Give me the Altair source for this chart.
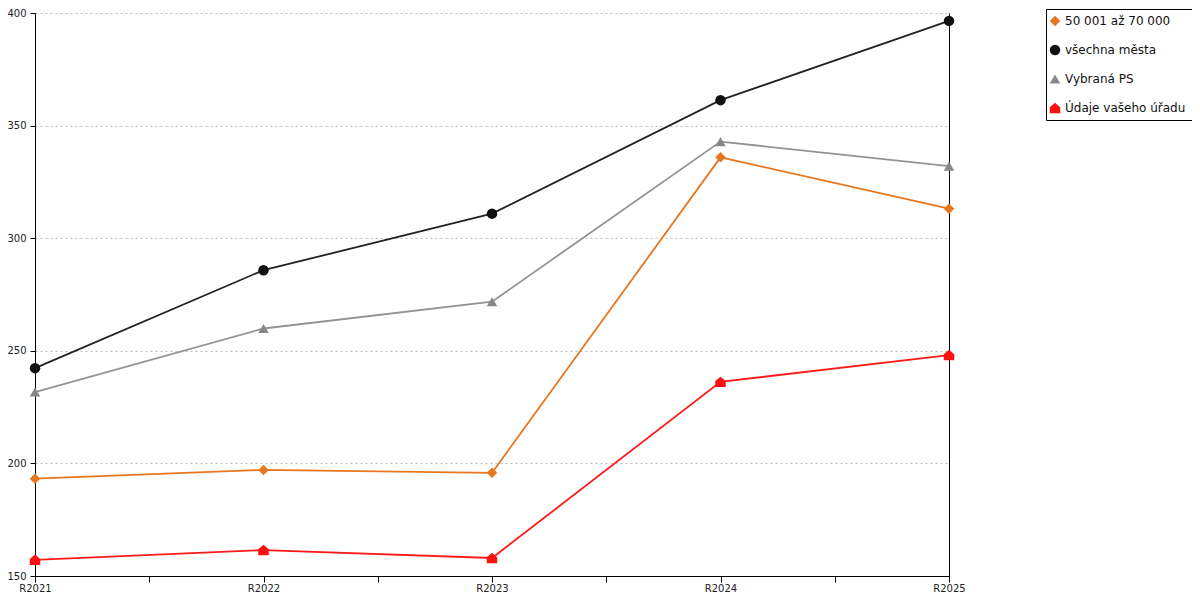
import altair as alt
import pandas as pd

years = ["R2021", "R2022", "R2023", "R2024", "R2025"]
series = ["50 001 až 70 000", "všechna města", "Vybraná PS", "Údaje vašeho úřadu"]
v_orange = [193.2, 197.1, 195.8, 335.9, 313.1]
v_black = [242.3, 285.8, 310.9, 361.3, 396.5]
v_gray = [231.7, 259.9, 271.8, 342.9, 332.0]
v_red = [157.2, 161.5, 158.0, 236.2, 248.1]
colors = ["#E8761E", "#111111", "#888888", "#FF1010"]
line_colors = ["#E8761E", "#222222", "#939393", "#FF1A1A"]
house = "M-1,1L1,1L1,-0.15L0,-1L-1,-0.15Z"
shapes = ["diamond", "circle", "triangle-up", house]

rows = []
for k, (s, vals) in enumerate(zip(series, [v_orange, v_black, v_gray, v_red])):
    for i, (yr, v) in enumerate(zip(years, vals)):
        rows.append({"serie": s, "k": k, "rok": yr, "i": i, "v": v})
df = pd.DataFrame(rows)

FONT = "DejaVu Sans"
label_arr = "[" + ",".join("'" + y + "'" for y in years) + "]"

x_enc = alt.X(
    "i:Q",
    scale=alt.Scale(domain=[0, len(years) - 1], nice=False, zero=False),
    axis=alt.Axis(
        title=None,
        values=[k / 2 for k in range(2 * (len(years) - 1) + 1)],
        labelExpr=f"datum.value % 1 == 0 ? {label_arr}[datum.value] : ''",
        grid=False,
        tickSize=6,
        tickColor="black",
        domainColor="black",
        labelColor="#222222",
        labelFont=FONT,
        labelFontSize=10,
        labelPadding=1,
        labelAlign="center",
        labelFlush=False,
        labelOverlap=False,
    ),
)
y_scale = alt.Scale(domain=[150, 400], nice=False, zero=False)

legend_kw = dict(
    title=None,
    orient="none",
    legendX=1011,
    legendY=-4,
    strokeColor="black",
    padding=6,
    symbolOffset=-3,
    labelOffset=4,
    rowPadding=17,
    labelFont=FONT,
    labelFontSize=12,
    labelColor="#111111",
    symbolSize=110,
    symbolOpacity=1,
    symbolStrokeWidth=0,
    fillColor="white",
)

lines = alt.Chart(df).mark_line(strokeWidth=1.8).encode(
    x=x_enc,
    y=alt.Y(
        "v:Q",
        scale=y_scale,
        axis=alt.Axis(
            title=None,
            values=[150, 200, 250, 300, 350, 400],
            grid=True,
            gridColor="#BBBBBB",
            gridDash=[2, 3],
            gridWidth=1,
            tickSize=5,
            tickColor="black",
            domainColor="black",
            labelColor="#222222",
            labelFont=FONT,
            labelFontSize=10,
            labelPadding=4,
        ),
    ),
    stroke=alt.Stroke(
        "k:N",
        scale=alt.Scale(domain=list(range(len(series))), range=line_colors),
        legend=None,
    ),
    order="i:Q",
)

points = alt.Chart(df).mark_point(filled=True, opacity=1, size=110).encode(
    x=x_enc,
    y=alt.Y(
        "v:Q",
        scale=y_scale,
        axis=alt.Axis(
            orient="right",
            title=None,
            labels=False,
            ticks=False,
            grid=False,
            domainColor="black",
        ),
    ),
    color=alt.Color(
        "serie:N",
        scale=alt.Scale(domain=series, range=colors),
        legend=alt.Legend(**legend_kw),
    ),
    shape=alt.Shape(
        "serie:N",
        scale=alt.Scale(domain=series, range=shapes),
        legend=alt.Legend(**legend_kw),
    ),
)

chart = (
    alt.layer(lines, points)
    .resolve_axis(y="independent")
    .properties(
        width=914,
        height=563,
        autosize=alt.AutoSizeParams(type="none"),
        padding={"left": 27, "top": 5, "right": 243, "bottom": 16},
        background="white",
    )
    .configure_view(stroke=None)
)

chart.save("out.html", embed_options={"renderer": "svg", "actions": False})
